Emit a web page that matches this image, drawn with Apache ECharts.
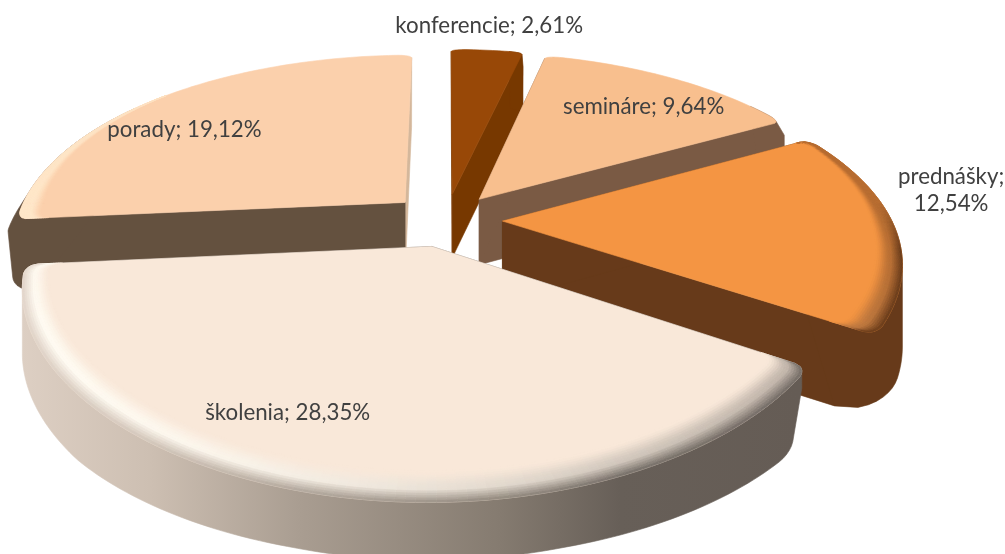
<!DOCTYPE html>
<html><head><meta charset="utf-8">
<style>html,body{margin:0;padding:0;background:#fff}#c{width:1005px;height:554px}</style>
<script src="https://cdn.jsdelivr.net/npm/echarts@6/dist/echarts.min.js"></script>
</head><body><div id="c"></div>
<script>
// Data
var categories = ['konferencie','semináre','prednášky','školenia','porady'];
var values = [2.61, 9.64, 12.54, 28.35, 19.12];
var valueLabels = ['2,61%','9,64%','12,54%','28,35%','19,12%'];

// Styles
var topColors  = ['#984807','#F8BF8E','#F49543','#F9E8D9','#FBD0AC'];
var wallColors = ['#773800','#7A5A44','#673A1A','#655C55','#64513F'];
var endFaceColors = ['#773800','#7A5A44','#673A1A','#655C55','#D4B79B'];
var frontWallStops = [[22,'#DDCFC3'],[150,'#CDBFB2'],[300,'#A99D91'],[500,'#857B70'],[620,'#675F58'],[800,'#655C55']];
var depthRank = [2,3,4,5,1];

// Projection layout
var CX=446, CY=220, R=389, DEPTH=183, PERSP=0.199, HEIGHT=60, EXPLODE=0.145;
var heightScale = [1.07,1.1,1.33,1.02,1.2];
var rimScale = [0,0,1,1,1];
var baseExpand = [1.02,1.03,1,1,1.03];
var baseFillet = [[0.05,0.02],[0.05,0.02],[0.2,0.1],[0.14,0.06],[0.12,0.07]];
var topFilletDrop = [0.015,0.02,0.03,0.03,0.02];
var labelLayout = [[1.21,5.9],[0.767,39.9],[1.21,81.7],[0.79,202.4],[0.779,305]];
var wrappedLabel = [false,false,true,false,false];
var FILLET_ANGLE=0.05, RINGS=14, SHOULDER=0.25;

function project(u,v,z,scale){
  var w=1/(1-PERSP*v);
  var taper=v>0.8?1-0.15*Math.min(1,(v-0.8)/0.34):1;
  return [CX+R*u*w, CY+DEPTH*v*w+z*HEIGHT*scale*taper*Math.pow(w,0.4)];
}
function hex(c){return [parseInt(c.substr(1,2),16),parseInt(c.substr(3,2),16),parseInt(c.substr(5,2),16)];}
function mix(a,b,t){t=Math.max(0,Math.min(1,t));var A=hex(a),B=hex(b),o='#';
  for(var i=0;i<3;i++){var n=Math.round(A[i]+(B[i]-A[i])*t);o+=(n<16?'0':'')+n.toString(16);}return o;}
function smooth(t){t=Math.max(0,Math.min(1,t));return t*t*(3-2*t);}
function frontWall(x){
  var s=frontWallStops;
  if(x<=s[0][0])return s[0][1];
  for(var i=1;i<s.length;i++){if(x<=s[i][0])return mix(s[i-1][1],s[i][1],(x-s[i-1][0])/(s[i][0]-s[i-1][0]));}
  return s[s.length-1][1];
}
function hull(pts){
  var p=pts.slice().sort(function(a,b){return a[0]-b[0]||a[1]-b[1];});
  var cross=function(o,a,b){return (a[0]-o[0])*(b[1]-o[1])-(a[1]-o[1])*(b[0]-o[0]);};
  var lo=[],up=[],i;
  for(i=0;i<p.length;i++){while(lo.length>1&&cross(lo[lo.length-2],lo[lo.length-1],p[i])<=0)lo.pop();lo.push(p[i]);}
  for(i=p.length-1;i>=0;i--){while(up.length>1&&cross(up[up.length-2],up[up.length-1],p[i])<=0)up.pop();up.push(p[i]);}
  lo.pop();up.pop();
  return lo.concat(up);
}
var total=values.reduce(function(a,b){return a+b;},0);
var spans=[],acc=0;
values.forEach(function(v){var a=acc/total*2*Math.PI;acc+=v;spans.push([a,acc/total*2*Math.PI]);});

function radiusAt(th,a1,a2,fa,fd){
  var v=Math.max(0,-Math.cos(th));
  var base=1+0.04*v*v*v*v;
  var d=Math.min(th-a1,a2-th);
  if(d>=fa)return base;
  var q=1-Math.max(d,0)/fa;
  return base-fd*(1-Math.sqrt(Math.max(0,1-q*q)));
}
function arcAngles(a1,a2,fa){
  var out=[],i,step=0.02;
  for(i=0;i<8;i++)out.push(a1+fa*i/8);
  for(var t=a1+fa;t<a2-fa;t+=step)out.push(t);
  for(i=8;i>=0;i--)out.push(a2-fa*i/8);
  return out;
}
function rimWidth(th){
  var v=-Math.cos(th);
  return v>=0?0.055+0.05*v:0.055*Math.max(0,1+v/0.7);
}
function renderSlice(params,api){
  var i=api.value(0), a1=spans[i][0], a2=spans[i][1], mid=(a1+a2)/2, hs=heightScale[i];
  var ax=EXPLODE*Math.sin(mid), ay=-EXPLODE*Math.cos(mid);
  var pt=function(th,r,z){return project(ax+r*Math.sin(th),ay-r*Math.cos(th),z,hs);};
  var kids=[], z2=depthRank[i]*100000;
  var add=function(points,fill){
    kids.push({type:'polygon',silent:true,z2:z2++,shape:{points:points},
      style:{fill:fill,stroke:fill,lineWidth:0.6}});
  };
  var fa=FILLET_ANGLE, fd=topFilletDrop[i], bf=baseFillet[i], bx=baseExpand[i];
  var angs=arcAngles(a1,a2,fa), bAngs=arcAngles(a1,a2,bf[0]);
  var wallOf=function(x){return i===3?mix(frontWall(x),'#FFFFFF',0.08):wallColors[i];};
  var topR=function(t){return radiusAt(t,a1,a2,fa,fd);};
  var baseR=function(t){return radiusAt(t,a1,a2,bf[0],bf[1])*bx;};
  var visible=function(t){return Math.cos(t)<0.6||(i===0&&t>a2-fa);};
  // radial faces
  var apexT=pt(0,0,0), apexB=pt(0,0,1);
  add([apexT,pt(a2,topR(a2),0),pt(a2,baseR(a2),1),apexB],endFaceColors[i]);
  add([apexT,pt(a1,topR(a1),0),pt(a1,baseR(a1),1),apexB],wallColors[i]);
  // outer wall: convex silhouette of the rim, a soft shoulder and the base
  var wallPts=[];
  angs.forEach(function(t){if(visible(t)){
    wallPts.push(pt(t,topR(t),0));
    wallPts.push(pt(t,topR(t)*bx,SHOULDER));
  }});
  bAngs.forEach(function(t){if(visible(t))wallPts.push(pt(t,baseR(t),1));});
  if(wallPts.length>2){
    var wallFill=wallColors[i];
    if(i===3){
      var x0=frontWallStops[0][0],x1=frontWallStops[frontWallStops.length-1][0];
      wallFill=new echarts.graphic.LinearGradient(x0,0,x1,0,frontWallStops.map(function(s){
        return {offset:(s[0]-x0)/(x1-x0),color:s[1]};}),true);
    }
    kids.push({type:'polygon',silent:true,z2:z2++,shape:{points:hull(wallPts)},
      style:{fill:wallFill,stroke:wallFill,lineWidth:0.6}});
  }
  // top face
  var topPts=[apexT];
  angs.forEach(function(t){topPts.push(pt(t,topR(t),0));});
  add(topPts,topColors[i]);
  // bevelled rim
  if(rimScale[i]>0){
    for(var k=0;k<angs.length-1;k++){
      var t0=angs[k],t1=angs[k+1],tm=(t0+t1)/2;
      var w0=rimWidth(t0)*rimScale[i],w1=rimWidth(t1)*rimScale[i];
      if(w0<=0.002&&w1<=0.002)continue;
      var r0=topR(t0),r1=topR(t1);
      var light=(1+Math.cos(tm-240*Math.PI/180))/2;
      var wallC=wallOf(pt(tm,1,0)[0]);
      var midC=mix(mix(topColors[i],wallC,0.45),'#FFFBF2',Math.pow(light,2));
      var edgeW=Math.max(0,Math.min(1,-Math.cos(tm)*4+0.4));
      var outerC=mix(midC,wallC,edgeW);
      if(i===4){midC=mix(topColors[i],'#FFE9CC',light);outerC=midC;}
      for(var g=0;g<RINGS;g++){
        var f0=g/RINGS,f1=(g+1)/RINGS,fm=(g+0.5)/RINGS;
        var col=fm<0.6?mix(topColors[i],midC,smooth(fm/0.6)):mix(midC,outerC,(fm-0.6)/0.4);
        add([pt(t0,r0-w0*(1-f0),0),pt(t1,r1-w1*(1-f0),0),pt(t1,r1-w1*(1-f1),0),pt(t0,r0-w0*(1-f1),0)],col);
      }
    }
  }
  // label
  var lay=labelLayout[i], lp=pt(lay[1]*Math.PI/180,lay[0],0);
  var txt=categories[i]+';'+(wrappedLabel[i]?'\n':' ')+valueLabels[i];
  kids.push({type:'text',silent:true,z2:9000000,style:{text:txt,x:lp[0],y:lp[1],fill:'#404040',
    font:'22.3px Lato, Carlito, sans-serif',align:'center',verticalAlign:'middle',lineHeight:27}});
  return {type:'group',children:kids};
}
var chart=echarts.init(document.getElementById('c'),null,{renderer:'canvas'});
chart.setOption({
  animation:false,
  backgroundColor:'#ffffff',
  series:[{type:'custom',coordinateSystem:'none',renderItem:renderSlice,
    data:values.map(function(v,i){return [i,v];}),
    encode:{value:1}}]
});
</script></body></html>
